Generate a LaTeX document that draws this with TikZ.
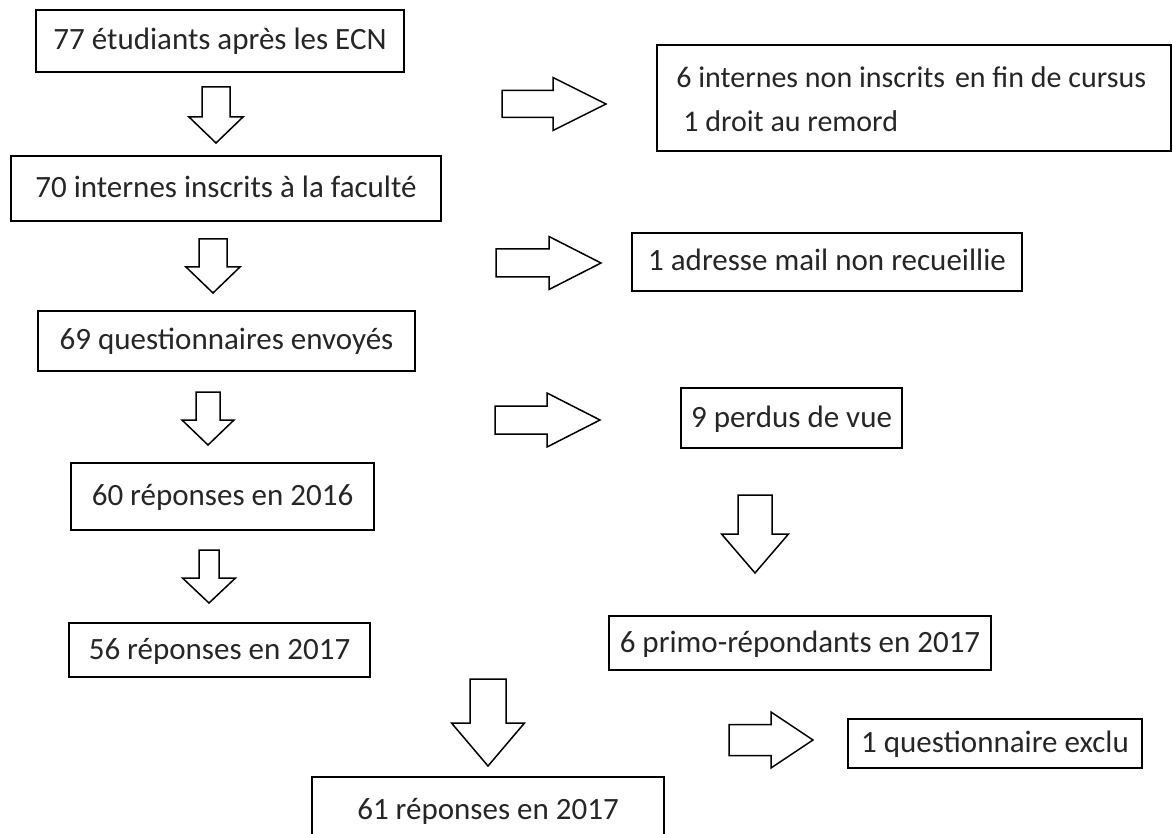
\documentclass[tikz,border=0pt]{standalone}
\usepackage{fontspec}
\setmainfont{Carlito}
\newcommand{\blockdown}[6]{%
  \draw[blockarrow] (#1-#5,#2) -- (#1+#5,#2) -- (#1+#5,#3) -- (#1+#6,#3) -- (#1,#4) -- (#1-#6,#3) -- (#1-#5,#3) -- cycle;}
\newcommand{\blockright}[6]{%
  \draw[blockarrow] (#2,#1-#5) -- (#3,#1-#5) -- (#3,#1-#6) -- (#4,#1) -- (#3,#1+#6) -- (#3,#1+#5) -- (#2,#1+#5) -- cycle;}
\begin{document}
\begin{tikzpicture}[x=1pt,y=-1pt,
  box/.style={draw=black, line width=1.8pt, rectangle, inner sep=0pt, text=black!85,
    font=\fontsize{31}{38}\selectfont, text height=23pt, text depth=5pt, align=center},
  boxtext/.style={inner sep=0pt, text=black!85, align=left, font=\fontsize{30}{44}\selectfont},
  blockarrow/.style={draw=black, line width=1.5pt, fill=white, line join=miter}]
\useasboundingbox (0,0) rectangle (1173,834);
\fill[white] (0,0) rectangle (1173,834);

\node[box, minimum width=368pt, minimum height=62pt] (b1) at (220,41) {77 étudiants après les ECN};
\node[box, minimum width=514pt, minimum height=106pt] (b2) at (914,98) {};
\node[boxtext, anchor=west] (b2t) at ([xshift=20pt,yshift=-1pt]b2.west)
  {6 internes non inscrits\ \hspace{3pt}en fin de cursus\\\hspace*{7pt}1 droit au remord};
\node[box, minimum width=430pt, minimum height=65pt] (b3) at (226,188.5) {70 internes inscrits à la faculté};
\node[box, minimum width=390pt, minimum height=58pt] (b4) at (827,262) {1 adresse mail non recueillie};
\node[box, minimum width=377pt, minimum height=60pt] (b5) at (226.5,341) {69 questionnaires envoyés};
\node[box, minimum width=221pt, minimum height=60pt] (b6) at (791.5,418) {9 perdus de vue};
\node[box, minimum width=303pt, minimum height=67pt] (b7) at (222.5,496.5) {60 réponses en 2016};
\node[box, minimum width=301pt, minimum height=54pt] (b8) at (219.5,650) {56 réponses en 2017};
\node[box, minimum width=382pt, minimum height=54pt] (b9) at (800,643) {6 primo-répondants en 2017};
\node[box, minimum width=294pt, minimum height=49pt] (b10) at (995,743.5) {1 questionnaire exclu};
\node[box, minimum width=352pt, minimum height=66pt] (b11) at (488,810) {61 réponses en 2017};

% down block arrows: cx, top, head base, tip, shaft half, head half
\blockdown{216}{87}{117}{143}{14}{27}
\blockdown{213}{239}{267}{293}{14}{27}
\blockdown{208}{392}{420}{445}{12}{26}
\blockdown{209}{550}{578}{603}{10}{26.5}
\blockdown{488}{679}{723}{766}{18}{36.5}
\blockdown{755}{495}{534}{573}{17}{33.5}
% right block arrows: cy, left, head base, tip, shaft half, head half
\blockright{104}{502}{553}{606}{13.5}{26.5}
\blockright{263}{496}{549}{601}{14}{26.5}
\blockright{420}{495}{547}{600}{14}{27}
\blockright{740}{729}{771}{813}{15.5}{28}
\end{tikzpicture}
\end{document}
